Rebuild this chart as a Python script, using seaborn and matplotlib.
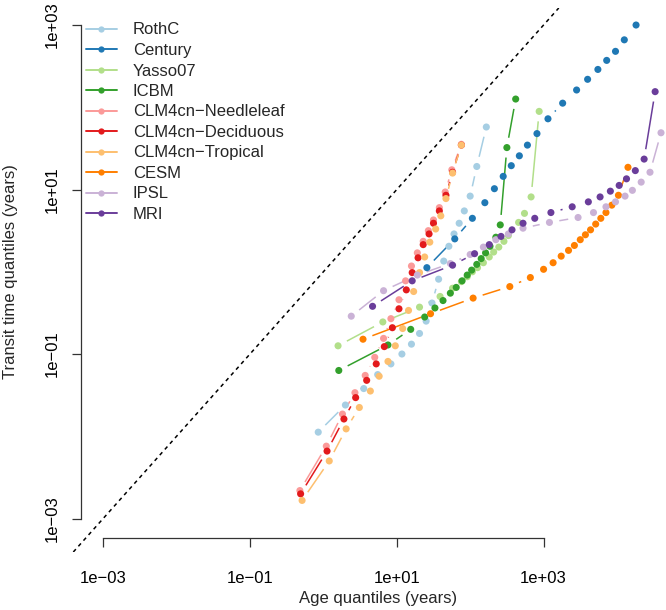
import numpy as np
import pandas as pd
import matplotlib
matplotlib.use("Agg")
import matplotlib.pyplot as plt
from matplotlib.collections import LineCollection
from matplotlib.lines import Line2D
from matplotlib.ticker import NullLocator
import seaborn as sns

# Model names, in legend order
models = ["RothC", "Century", "Yasso07", "ICBM", "CLM4cn-Needleleaf",
          "CLM4cn-Deciduous", "CLM4cn-Tropical", "CESM", "IPSL", "MRI"]

# log10 of the age / transit time quantiles (years)
rothc_age = [-0.07, 0.30, 0.55, 0.74, 0.92, 1.07, 1.20, 1.31, 1.40, 1.48, 1.57, 1.64, 1.71, 1.78, 1.85, 1.92, 2.00, 2.09, 2.22]
rothc_tt = [-1.95, -1.62, -1.42, -1.25, -1.12, -1.00, -0.88, -0.75, -0.60, -0.38, -0.09, 0.13, 0.31, 0.46, 0.59, 0.74, 0.92, 1.28, 1.76]

century_age = [1.41, 1.79, 2.03, 2.20, 2.33, 2.45, 2.56, 2.67, 2.78, 2.91, 3.06, 3.26, 3.45, 3.60, 3.74, 3.86, 3.98, 4.10, 4.26]
century_tt = [0.05, 0.40, 0.65, 0.84, 1.01, 1.16, 1.29, 1.41, 1.54, 1.68, 1.86, 2.05, 2.21, 2.34, 2.46, 2.57, 2.68, 2.82, 3.00]

yasso_age = [0.20, 0.81, 1.31, 1.59, 1.76, 1.88, 1.96, 2.03, 2.10, 2.18, 2.26, 2.32, 2.39, 2.46, 2.52, 2.66, 2.74, 2.83, 2.94]
yasso_tt = [-0.90, -0.61, -0.43, -0.30, -0.20, -0.12, -0.06, 0.00, 0.05, 0.11, 0.18, 0.24, 0.30, 0.37, 0.44, 0.60, 0.71, 0.91, 1.95]

icbm_age = [0.21, 0.88, 1.19, 1.38, 1.52, 1.63, 1.73, 1.81, 1.89, 1.96, 2.02, 2.09, 2.15, 2.21, 2.27, 2.35, 2.41, 2.50, 2.62]
icbm_tt = [-1.20, -0.89, -0.70, -0.55, -0.44, -0.35, -0.26, -0.19, -0.11, -0.04, 0.02, 0.09, 0.16, 0.23, 0.31, 0.42, 0.57, 1.51, 2.10]

needle_age = [-0.32, 0.04, 0.26, 0.43, 0.57, 0.70, 0.82, 0.92, 1.03, 1.12, 1.20, 1.28, 1.36, 1.43, 1.50, 1.58, 1.66, 1.75, 1.88]
needle_tt = [-2.66, -2.12, -1.73, -1.47, -1.26, -1.04, -0.81, -0.57, -0.34, -0.11, 0.07, 0.23, 0.37, 0.50, 0.63, 0.78, 0.97, 1.24, 1.55]

decid_age = [-0.31, 0.05, 0.28, 0.44, 0.59, 0.72, 0.83, 0.94, 1.03, 1.13, 1.21, 1.29, 1.36, 1.44, 1.50, 1.58, 1.67, 1.76, 1.88]
decid_tt = [-2.70, -2.18, -1.79, -1.53, -1.32, -1.12, -0.91, -0.68, -0.45, -0.22, -0.01, 0.17, 0.33, 0.46, 0.59, 0.74, 0.93, 1.21, 1.54]

trop_age = [-0.29, 0.08, 0.31, 0.49, 0.64, 0.76, 0.88, 0.98, 1.08, 1.16, 1.23, 1.31, 1.38, 1.45, 1.53, 1.60, 1.67, 1.76, 1.88]
trop_tt = [-2.78, -2.30, -1.91, -1.65, -1.45, -1.27, -1.09, -0.90, -0.69, -0.47, -0.24, -0.01, 0.18, 0.36, 0.52, 0.68, 0.89, 1.20, 1.54]

cesm_age = [0.54, 1.46, 2.04, 2.54, 2.82, 3.00, 3.13, 3.24, 3.34, 3.42, 3.50, 3.57, 3.64, 3.71, 3.78, 3.85, 3.93, 4.02, 4.15]
cesm_tt = [-0.82, -0.51, -0.32, -0.18, -0.07, 0.03, 0.11, 0.19, 0.26, 0.32, 0.39, 0.45, 0.51, 0.58, 0.65, 0.72, 0.81, 0.93, 1.27]

ipsl_age = [0.38, 0.82, 1.28, 1.73, 2.00, 2.18, 2.35, 2.52, 2.72, 3.08, 3.47, 3.68, 3.85, 3.98, 4.11, 4.21, 4.33, 4.45, 4.60]
ipsl_tt = [-0.54, -0.23, -0.04, 0.10, 0.21, 0.30, 0.39, 0.46, 0.53, 0.60, 0.66, 0.72, 0.79, 0.85, 0.92, 0.99, 1.09, 1.21, 1.69]

mri_age = [0.67, 1.21, 1.76, 2.06, 2.26, 2.42, 2.57, 2.72, 2.88, 3.10, 3.39, 3.61, 3.77, 3.91, 4.03, 4.13, 4.25, 4.37, 4.52]
mri_tt = [-0.42, -0.11, 0.08, 0.22, 0.33, 0.43, 0.51, 0.59, 0.65, 0.72, 0.79, 0.85, 0.91, 0.98, 1.05, 1.13, 1.23, 1.37, 2.19]

ages = [rothc_age, century_age, yasso_age, icbm_age, needle_age,
        decid_age, trop_age, cesm_age, ipsl_age, mri_age]
transits = [rothc_tt, century_tt, yasso_tt, icbm_tt, needle_tt,
            decid_tt, trop_tt, cesm_tt, ipsl_tt, mri_tt]

tick_values = [1e-3, 1e-1, 1e1, 1e3]
tick_labels = ["1e\u221203", "1e\u221201", "1e+01", "1e+03"]

# long table for seaborn
frames = []
for name, a, t in zip(models, ages, transits):
    frames.append(pd.DataFrame({"model": name,
                                "age": 10 ** np.array(a),
                                "transit": 10 ** np.array(t)}))
df = pd.concat(frames, ignore_index=True)

sns.set_style("white")
plt.rcParams["font.family"] = ["Liberation Sans", "DejaVu Sans"]
plt.rcParams["font.size"] = 12

colors = sns.color_palette("Paired", 10)

fig = plt.figure(figsize=(6.66, 6.10), dpi=100)
ax = fig.add_axes([62 / 666, 1 - 552 / 610, 604 / 666, 544 / 610])
ax.set_xscale("log")
ax.set_yscale("log")
ax.set_xlim(10 ** -3.561, 10 ** 4.668)
ax.set_ylim(10 ** -3.407, 10 ** 3.207)

# 1:1 line
ax.axline((1, 1), (10, 10), color="black", lw=1.1, linestyle=(0, (2.5, 2.5)), zorder=1)

# R type="b": lines joining points, with a gap around each point
gap = 10  # pixels
for name, color in zip(models, colors):
    sub = df[df["model"] == name]
    pts = ax.transData.transform(sub[["age", "transit"]].to_numpy())
    segs = []
    for p0, p1 in zip(pts[:-1], pts[1:]):
        d = p1 - p0
        length = np.hypot(d[0], d[1])
        if length > 2 * gap:
            u = d / length
            segs.append(ax.transData.inverted().transform([p0 + u * gap, p1 - u * gap]))
    ax.add_collection(LineCollection(segs, colors=[color], linewidths=1.1, zorder=2))

sns.scatterplot(data=df, x="age", y="transit", hue="model", hue_order=models,
                palette=colors, s=26, edgecolor="none", linewidth=0,
                legend=False, ax=ax, zorder=3, clip_on=False)

ax.set_xlabel("")
ax.set_ylabel("")
ax.set_xticks(tick_values)
ax.set_xticklabels(tick_labels)
ax.set_yticks(tick_values)
ax.set_yticklabels(tick_labels)
ax.xaxis.set_minor_locator(NullLocator())
ax.yaxis.set_minor_locator(NullLocator())
ax.tick_params(axis="both", direction="out", length=6.5, width=0.9,
               color="#333333", labelsize=12, labelcolor="black",
               bottom=True, left=True)
ax.tick_params(axis="x", pad=17)
ax.tick_params(axis="y", pad=8.5, labelrotation=90)

ax.spines["top"].set_visible(False)
ax.spines["right"].set_visible(False)
ax.spines["left"].set_position(("axes", 19 / 604))
ax.spines["bottom"].set_position(("axes", 14 / 544))
ax.spines["left"].set_bounds(1e-3, 1e3)
ax.spines["bottom"].set_bounds(1e-3, 1e3)
for side in ["left", "bottom"]:
    ax.spines[side].set_color("#333333")
    ax.spines[side].set_linewidth(0.9)

fig.text(378 / 666, 1 - 598 / 610, "Age quantiles (years)", ha="center", va="center", fontsize=12)
fig.text(11 / 666, 1 - 272 / 610, "Transit time quantiles (years)", rotation=90,
         ha="center", va="center", fontsize=12)

handles = [Line2D([0], [0], color=c, lw=1.4, marker="o", markersize=4.5,
                  markeredgewidth=0) for c in colors]
labels = [m.replace("-", "\u2212") for m in models]
ax.legend(handles, labels, loc="upper left", bbox_to_anchor=(86 / 666, 1 - 22.5 / 610),
          bbox_transform=fig.transFigure, frameon=False, borderpad=0, borderaxespad=0,
          handlelength=1.84, handletextpad=0.96, labelspacing=0.33, fontsize=12)

for lab in ax.get_yticklabels():
    lab.set_verticalalignment("center")

fig.savefig("out.png", dpi=100)
